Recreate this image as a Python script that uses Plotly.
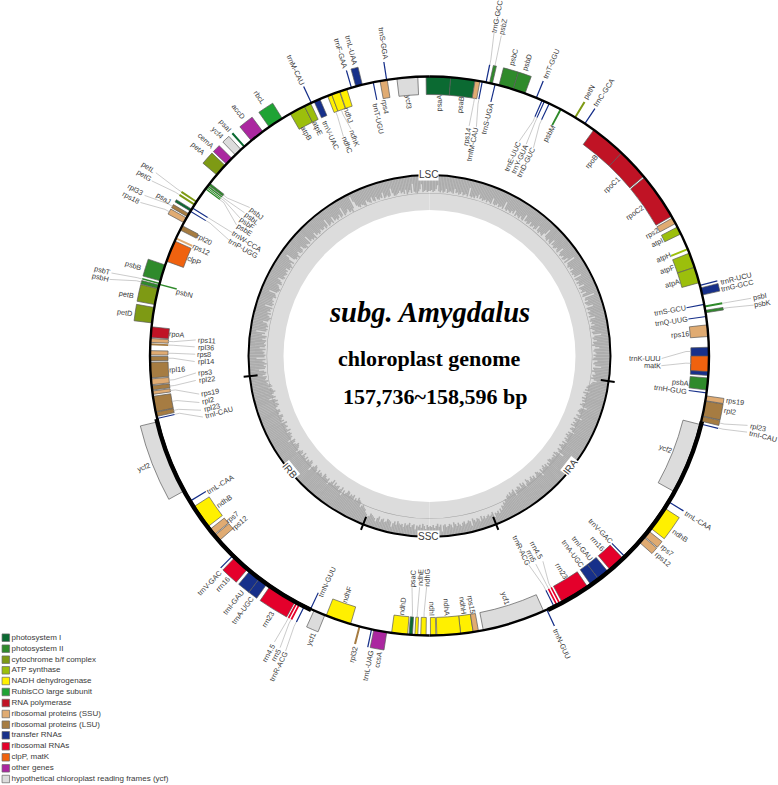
import math
import plotly.graph_objects as go

W, H = 778, 785
CX, CY, RMAX = 429.5, 356.0, 345.0
R_RING, GENE_H = 279.5, 18.0

# gene tables: (name, start angle, end angle, side of the ring), angles read clockwise from the top
photosystem_I = [("psaA", -0.7, 4.35, "in"), ("psaB", 4.35, 9.4, "in"), ("psaC", 183.5, 184.2, "in"),
                 ("psaI", 318.3, 318.7, "out"), ("psaJ", 301.2, 301.7, "out")]
photosystem_II = [("psbZ", 12.4, 13.0, "out"), ("psbC", 14.4, 17.4, "out"), ("psbD", 17.4, 20.0, "out"),
                  ("psbM", 27.8, 28.2, "in"), ("psbI", 79.6, 80.0, "out"), ("psbK", 80.6, 81.1, "out"),
                  ("psbA", 94.5, 97.0, "in"), ("psbB", 285.6, 289.0, "out"), ("psbT", 284.9, 285.2, "out"),
                  ("psbN", 284.7, 285.0, "in"), ("psbH", 284.0, 284.7, "out"), ("psbE", 306.6, 306.9, "in"),
                  ("psbF", 307.0, 307.2, "in"), ("psbL", 307.3, 307.6, "in"), ("psbJ", 307.7, 308.2, "in")]
cytochrome = [("petN", 31.2, 31.6, "out"), ("petD", 276.8, 280.0, "out"), ("petB", 280.6, 283.9, "out"),
              ("petG", 302.6, 303.0, "out"), ("petL", 303.3, 303.7, "out"), ("petA", 310.4, 313.0, "out")]
atp_synthase = [("atpI", 62.5, 64.1, "in"), ("atpH", 67.3, 67.7, "in"), ("atpF", 68.4, 71.5, "in"),
                ("atpA", 71.5, 74.8, "in"), ("atpB", 330.1, 333.4, "in"), ("atpE", 333.4, 334.8, "in")]
ndh = [("ndhB", 122.9, 127.9, "out"), ("ndhH", 171.0, 173.6, "in"), ("ndhA", 173.6, 178.5, "in"),
       ("ndhI", 178.7, 179.8, "in"), ("ndhG", 180.7, 181.8, "in"), ("ndhE", 182.4, 183.0, "in"),
       ("ndhD", 184.5, 187.8, "in"), ("ndhF", 196.4, 201.7, "in"), ("ndhB", 232.4, 237.4, "in"),
       ("ndhC", 338.6, 339.5, "in"), ("ndhK", 339.5, 341.2, "in"), ("ndhJ", 341.3, 342.8, "in")]
rubisco = [("rbcL", 325.0, 328.2, "out")]
rna_polymerase = [("rpoB", 36.0, 43.4, "in"), ("rpoC1", 43.4, 50.0, "in"), ("rpoC2", 50.3, 60.0, "in"),
                  ("rpoA", 273.8, 276.0, "in")]
ribosomal_ssu = [("rps14", 9.4, 10.4, "in"), ("rps2", 60.4, 61.7, "in"), ("rps16", 83.6, 86.0, "in"),
                 ("rps19", 98.2, 99.2, "out"), ("rps7", 128.6, 130.0, "out"), ("rps12", 130.2, 131.6, "out"),
                 ("rps15", 169.9, 171.0, "in"), ("rps7", 230.3, 231.7, "in"), ("rps12", 228.7, 230.1, "in"),
                 ("rps19", 262.1, 262.8, "in"), ("rps3", 264.1, 265.3, "in"), ("rps8", 270.2, 271.1, "in"),
                 ("rps11", 272.8, 273.6, "in"), ("rps12", 294.7, 295.1, "in"), ("rps18", 298.5, 299.6, "out"),
                 ("rps4", 349.8, 351.3, "in")]
ribosomal_lsu = [("rpl2", 99.3, 102.4, "out"), ("rpl23", 102.5, 103.5, "out"), ("rpl32", 194.3, 194.7, "out"),
                 ("rpl23", 257.5, 258.4, "in"), ("rpl2", 258.5, 261.7, "in"), ("rpl22", 263.0, 263.9, "in"),
                 ("rpl16", 265.5, 268.7, "in"), ("rpl14", 269.0, 269.9, "in"), ("rpl36", 272.2, 272.6, "in"),
                 ("rpl20", 296.8, 297.8, "in"), ("rpl33", 299.9, 300.6, "out")]
transfer_rna = [("trnfM-CAU", 10.75, 11.0, "in"), ("trnG-GCC", 11.55, 11.8, "out"), ("trnS-UGA", 13.45, 13.7, "in"),
                ("trnT-GGU", 22.35, 22.6, "out"), ("trnE-UUC", 23.65, 23.9, "in"), ("trnY-GUA", 24.15, 24.4, "in"),
                ("trnD-GUC", 25.25, 25.5, "in"), ("trnC-GCA", 33.65, 33.9, "out"), ("trnR-UCU", 75.25, 75.5, "out"),
                ("trnG-GCC", 75.9, 77.4, "out"), ("trnS-GCU", 79.25, 79.5, "in"), ("trnQ-UUG", 81.75, 82.0, "in"),
                ("trnK-UUU", 88.2, 94.0, "in"), ("trnH-GUG", 97.45, 97.7, "in"), ("trnI-CAU", 103.95, 104.2, "out"),
                ("trnL-CAA", 121.25, 121.5, "out"), ("trnV-GAC", 135.65, 135.9, "in"), ("trnI-GAU", 140.4, 142.85, "in"),
                ("trnA-UGC", 142.85, 144.8, "in"), ("trnR-ACG", 153.45, 153.7, "in"), ("trnN-GUU", 155.05, 155.3, "out"),
                ("trnL-UAG", 191.85, 192.1, "out"), ("trnN-GUU", 205.05, 205.3, "in"), ("trnR-ACG", 206.45, 206.7, "out"),
                ("trnA-UGC", 215.5, 217.4, "out"), ("trnI-GAU", 217.4, 219.9, "out"), ("trnV-GAC", 224.45, 224.7, "out"),
                ("trnL-CAA", 238.65, 238.9, "in"), ("trnI-CAU", 256.95, 257.2, "in"), ("trnP-UGG", 301.05, 301.3, "in"),
                ("trnW-CCA", 301.85, 302.1, "in"), ("trnM-CAU", 334.85, 335.1, "out"), ("trnV-UAC", 335.6, 336.9, "in"),
                ("trnF-GAA", 343.65, 343.9, "out"), ("trnL-UAA", 344.7, 346.1, "out"), ("trnT-UGU", 348.25, 348.5, "in"),
                ("trnS-GGA", 351.05, 351.3, "out")]
ribosomal_rna = [("rrn16", 136.3, 139.8, "in"), ("rrn23", 145.6, 151.7, "in"), ("rrn4.5", 152.1, 152.45, "in"),
                 ("rrn5", 152.75, 153.1, "in"), ("rrn5", 207.5, 207.85, "out"), ("rrn4.5", 208.1, 208.45, "out"),
                 ("rrn23", 208.7, 214.7, "out"), ("rrn16", 220.5, 224.0, "out")]
clp_mat = [("matK", 90.0, 93.2, "in"), ("clpP", 289.8, 294.3, "in")]
other_genes = [("ccsA", 188.8, 191.5, "out"), ("cemA", 313.4, 315.0, "out"), ("accD", 320.4, 323.4, "out")]
ycf_genes = [("ycf2", 104.2, 119.0, "in"), ("ycf1", 155.9, 168.9, "in"), ("ycf1", 202.0, 204.4, "out"),
             ("ycf2", 241.2, 256.4, "out"), ("ycf4", 316.0, 317.6, "out"), ("ycf3", 353.3, 357.6, "in")]

legend_names = ["photosystem I", "photosystem II", "cytochrome b/f complex", "ATP synthase", "NADH dehydrogenase",
                "RubisCO large subunit", "RNA polymerase", "ribosomal proteins (SSU)", "ribosomal proteins (LSU)",
                "transfer RNAs", "ribosomal RNAs", "clpP, matK", "other genes",
                "hypothetical chloroplast reading frames (ycf)"]
legend_colors = ["#0b6a32", "#2f8a2b", "#7e9a14", "#9cbf0c", "#fff000", "#1fa334", "#c01325", "#e0ab72", "#a67c42",
                 "#17308a", "#e4002b", "#f0620f", "#ab27a0", "#dcdcdc"]
legend_rows = [637.7, 648.7, 659.7, 670.3, 681, 692, 703, 714, 724.7, 735.3, 746.3, 757.3, 768.3, 779]
gene_groups = [photosystem_I, photosystem_II, cytochrome, atp_synthase, ndh, rubisco, rna_polymerase,
               ribosomal_ssu, ribosomal_lsu, transfer_rna, ribosomal_rna, clp_mat, other_genes, ycf_genes]

# inner edge of the dark GC band, two values per degree, each row of 20 covers 10 degrees
gc_edge = [
 165,166,164,165,167,171,165,164,166,164,165,168,164,165,166,165,164,169,165,166,
 164,165,167,164,165,166,164,173,165,164,165,164,167,165,169,165,166,164,165,166,
 164,166,165,164,170,165,164,165,167,164,165,166,164,172,165,164,166,165,164,167,
 165,169,164,166,165,164,167,165,164,171,165,166,164,165,168,164,165,167,164,165,
 170,165,164,166,165,164,168,174,166,165,164,167,165,164,170,165,166,164,165,167,
 165,164,171,166,164,165,167,164,165,169,164,175,166,165,164,166,165,168,164,165,
 164,166,165,172,164,165,167,164,166,165,170,164,165,166,164,169,165,164,176,166,
 165,168,164,165,166,171,164,165,167,164,165,166,164,170,165,164,166,165,168,164,
 163,165,167,164,165,173,166,164,165,168,164,165,163,166,170,165,164,166,167,164,
 166,164,163,168,165,164,166,172,164,165,163,166,167,164,165,163,166,169,165,164,
 163,161,160,162,159,164,158,161,160,162,158,161,159,163,160,158,161,166,160,159,
 158,160,162,158,160,165,157,159,161,158,160,157,162,159,158,161,164,158,160,157,
 159,161,158,160,163,158,161,159,157,160,162,158,160,167,159,157,161,158,160,159,
 160,158,157,161,159,163,158,160,157,159,161,158,165,160,158,157,160,162,158,160,
 157,159,161,158,156,160,163,157,159,156,161,158,157,160,159,164,157,159,160,158,
 161,159,160,163,162,165,164,167,166,170,168,172,169,171,170,174,168,170,171,169,
 170,172,169,171,168,173,170,169,172,170,168,175,170,169,171,172,169,170,173,171,
 169,172,170,168,173,170,169,171,172,169,170,176,169,171,168,170,172,169,171,170,
 171,169,173,170,168,172,169,171,170,174,169,170,172,168,170,171,169,173,170,171,
 170,168,172,169,171,175,170,169,168,171,172,169,170,173,168,170,174,171,170,169,
 168,171,172,170,169,166,165,163,164,166,161,160,158,162,160,163,158,160,159,161,
 158,157,160,162,159,165,157,160,162,158,159,160,157,161,156,159,161,164,158,160,
 160,158,157,162,160,159,161,158,163,160,158,157,160,166,161,158,157,160,159,162,
 158,161,160,157,162,159,158,160,164,161,159,158,157,160,162,159,158,165,161,159,
 160,158,159,162,157,160,161,158,159,160,157,163,159,161,160,158,158,162,161,159,
 159,162,163,160,158,159,161,158,160,166,159,161,163,160,158,160,161,164,160,161,
 164,165,163,166,165,164,168,165,164,166,171,165,164,166,163,165,167,164,173,165,
 164,166,165,167,164,170,165,164,166,165,164,168,165,164,169,166,175,165,164,166,
 164,165,166,170,165,164,163,165,167,164,168,165,166,164,172,165,164,166,165,167,
 167,164,165,166,173,165,164,163,165,166,168,164,165,167,170,165,164,166,165,164,
 166,165,168,164,165,163,165,167,164,171,175,166,164,165,163,166,168,165,164,165,
 169,165,164,163,166,165,164,172,165,166,164,165,163,169,165,166,164,165,167,165,
 165,167,164,165,172,164,165,166,164,170,165,166,164,165,168,164,165,173,164,165,
 166,168,164,165,163,166,178,172,167,165,164,166,165,164,163,168,166,165,164,169,
 165,164,168,165,164,166,165,170,164,165,166,164,165,172,167,164,164,165,166,168,
 165,166,164,168,163,165,167,164,173,165,164,163,165,167,172,164,165,166,164,165]

boundary_angles = [98.0, 158.4, 201.5, 263.6]
ir_spans = [(103.5, 155.0), (205.0, 257.0)]

# labels: (text, centre x, centre y, angle of the gene it is tied to or None, side)
labels = [
 ("trnS-GGA",382.7,43,None,""),("trnL-UAA",350.7,50,None,""),("trnF-GAA",340,53,None,""),("trnM-CAU",295,70,None,""),
 ("rbcL",259.3,97.7,None,""),("accD",238.3,111.7,None,""),("psaI",225,126,None,""),("ycf4",217.3,132.3,None,""),
 ("cemA",205.3,141,None,""),("petA",197.7,149,None,""),("petL",148.3,167.7,303.5,"out"),("petG",144,176,302.8,"out"),
 ("rpl33",135,190,300.2,"out"),("rps18",130.7,197.3,299,"out"),("psaJ",164,198.3,None,""),("rpl20",204.3,240,None,""),
 ("rps12",201,249.3,None,""),("clpP",194,260.7,None,""),("psbB",133.3,265.3,None,""),("psbT",102.7,270.7,285,"out"),
 ("psbH",100.7,277.3,284.4,"out"),("psbN",184.3,293.3,None,""),("petB",126.7,294.3,None,""),("petD",124,312.7,None,""),
 ("rpoA",177.3,334.3,None,""),("rps11",206.7,340.7,273.2,"in"),("rpl36",205.7,347.3,272.4,"in"),("rps8",204.3,354.3,270.6,"in"),
 ("rpl14",205.7,361.3,269.5,"in"),("rpl16",176.7,369,None,""),("rps3",205,372.3,264.7,"in"),("rpl22",206.7,379.3,263.4,"in"),
 ("rps19",210,392.3,262.4,"in"),("rpl2",208.3,400.7,260,"in"),("rpl23",211.7,407.7,258,"in"),("trnI-CAU",219,412.7,257.1,"in"),
 ("ycf2",143.3,467.3,None,""),("trnL-CAA",220,484,None,""),("ndhB",224,501.7,None,""),("rps7",232,517,None,""),
 ("rps12",239,523,None,""),("trnV-GAC",209,583.3,None,""),("rrn16",222.3,584,None,""),("trnI-GAU",233.3,602.3,None,""),
 ("trnA-UGC",242.7,610.7,None,""),("rrn23",267.7,619,None,""),("rrn4.5",268.3,653.3,208.3,"out"),("rrn5",276,655.7,207.7,"out"),
 ("trnR-ACG",278.3,666,206.6,"out"),("ycf1",310.7,639,None,""),("trnN-GUU",326.7,582.3,None,""),("ndhF",346.7,594,None,""),
 ("rpl32",353.3,654.3,None,""),("trnL-UAG",368.3,665.7,None,""),("ccsA",377.7,660,None,""),("ndhD",402.5,606.5,None,""),
 ("psaC",412.7,578.3,183.8,"in"),("ndhE",420,578,182.7,"in"),("ndhG",426.7,578,181.2,"in"),("ndhI",432.3,609,None,""),
 ("ndhA",446.7,607.3,None,""),("ndhH",463.3,605,None,""),("rps15",471.7,604,None,""),("ycf1",505,597.7,None,""),
 ("rrn23",561,570.7,None,""),("trnR-ACG",521.7,550,153.6,"in"),("rrn5",531.7,556,152.9,"in"),("rrn4.5",536.7,550,152.3,"in"),
 ("trnA-UGC",572.7,553.3,None,""),("trnI-GAU",582.3,548.3,None,""),("rrn16",597.3,543.3,None,""),("trnV-GAC",600,530.7,None,""),
 ("trnN-GUU",561.7,643.3,None,""),("rps7",667.3,550.3,None,""),("rps12",663.3,559,None,""),("ndhB",680,535,None,""),
 ("trnL-CAA",697.7,520.7,None,""),("ycf2",665,448.3,None,""),("trnI-CAU",763.3,436,104,"out"),("rpl23",758.3,427.7,103,"out"),
 ("rpl2",730,411.3,None,""),("rps19",735,401,None,""),("trnH-GUG",670.7,389,None,""),("psbA",680,382.7,None,""),
 ("matK",652.3,365.3,91.6,"in"),("trnK-UUU",645,358.3,89,"in"),("rps16",680,334,None,""),("trnQ-UUG",671,321,None,""),
 ("trnS-GCU",670,310,None,""),("psbK",762.7,303.7,80.8,"out"),("psbI",760,296.7,79.8,"out"),("trnG-GCC",737.7,286,None,""),
 ("trnR-UCU",735.7,278.3,None,""),("atpA",672.3,284,None,""),("atpF",667.3,270,None,""),("atpH",663.3,257.7,None,""),
 ("atpI",657.3,242.3,None,""),("rps2",651.7,233.3,None,""),("rpoC2",635,212.7,None,""),("rpoC1",612.3,185,None,""),
 ("rpoB",591.7,161.7,None,""),("trnC-GCA",604,92.7,None,""),("petN",589,92.7,None,""),("psbM",549,133.3,None,""),
 ("trnD-GUC",526,162.7,25.4,"in"),("trnY-GUA",519.3,159.3,24.3,"in"),("trnE-UUC",512.7,156.7,23.8,"in"),
 ("trnT-GGU",551.7,64,None,""),("psbD",527.3,62.7,None,""),("psbC",513.3,57.3,None,""),("psbZ",503.3,26.7,12.7,"out"),
 ("trnG-GCC",497.3,16.7,11.7,"out"),("trnS-UGA",487.3,118.3,None,""),("trnfM-CAU",472.7,145,10.9,"in"),("rps14",467.3,136.7,9.9,"in"),
 ("psaB",461,105,None,""),("psaA",439,103.3,None,""),("ycf3",408.3,101.7,None,""),("rps4",385,106.7,None,""),
 ("trnT-UGU",378.3,118.3,None,""),("ndhJ",348.3,115.7,None,""),("ndhK",354,137.7,340.3,"in"),("ndhC",346.7,145,339,"in"),
 ("trnV-UAC",330,135,None,""),("atpE",317.7,128.3,None,""),("atpB",306.7,133.3,None,""),
 ("psbJ",256.7,213.3,308,"in"),("psbL",251.7,218.3,307.5,"in"),("psbF",247.3,223.3,307.1,"in"),("psbE",244,230,306.7,"in"),
 ("trnW-CCA",246.7,241.7,302,"in"),("trnP-UGG",243.3,248.3,301.2,"in"),
]
ring_labels = [("LSC", 429, 175, 0), ("IRA", 570.7, 466.7, -52), ("IRB", 290, 470, 51), ("SSC", 429, 536, 0)]
title_lines = [("subg. Amygdalus", 429.5, 312, 28.5, "<b><i>%s</i></b>"), ("chloroplast genome", 429.5, 358, 22, "<b>%s</b>"),
               ("157,736~158,596 bp", 435, 396, 22, "<b>%s</b>")]

SANS = "Liberation Sans"
fig = go.Figure()


def annulus(base, thick, color, theta=0.0, width=360.0):
    fig.add_trace(go.Barpolar(theta=[theta], r=[thick], base=[base], width=[width], marker_color=color,
                              marker_line_width=0, hoverinfo="skip", showlegend=False))


annulus(146, 35, "#dcdcdc", 90, 180)
annulus(146, 35, "#dcdcdc", 270, 180)
n_gc = len(gc_edge)
gc_step = 360.0 / n_gc
fig.add_trace(go.Barpolar(theta=[(i + 0.5) * gc_step for i in range(n_gc)], r=[181 - v for v in gc_edge], base=gc_edge,
                          width=[gc_step * 1.04] * n_gc, marker_color="#adadad", marker_line_width=0,
                          hoverinfo="skip", showlegend=False))
annulus(162.4, 0.6, "#a2a2a2", 90, 180)
annulus(162.4, 0.6, "#a2a2a2", 270, 180)
annulus(180, 2, "#000000", 90, 180)
annulus(180, 2, "#000000", 270, 180)

for group, color in zip(gene_groups, legend_colors):
    names = [g[0] for g in group]
    starts = [g[1] for g in group]
    ends = [g[2] for g in group]
    sides = [g[3] for g in group]
    thin = [e - s < 0.45 for s, e in zip(starts, ends)]
    fig.add_trace(go.Barpolar(
        theta=[(s + e) / 2 for s, e in zip(starts, ends)],
        width=[e - s for s, e in zip(starts, ends)],
        r=[GENE_H] * len(group),
        base=[R_RING if sd == "out" else R_RING - GENE_H for sd in sides],
        marker=dict(color=color, line=dict(color=[color if t else "#5a5a5a" for t in thin],
                                           width=[0 if t else 0.7 for t in thin])),
        text=names, hoverinfo="text", showlegend=False))

annulus(R_RING - 1.2, 2.4, "#000000", 90, 180)
annulus(R_RING - 1.2, 2.4, "#000000", 270, 180)
for a, b in ir_spans:
    annulus(R_RING - 1.5, 4.4, "#000000", (a + b) / 2, b - a)

tick_t, tick_r = [], []
for a in boundary_angles:
    tick_t += [a, a, None]
    tick_r += [173, 187, None]
fig.add_trace(go.Scatterpolar(theta=tick_t, r=tick_r, mode="lines", line=dict(color="#000000", width=2),
                              hoverinfo="skip", showlegend=False))

lead_t, lead_r = [], []
annotations = []
for text, x, y, lead, side in labels:
    dx, dy = x - CX, CY - y
    ang = math.degrees(math.atan2(dx, dy)) % 360
    rot = ang - 90 if ang < 180 else ang - 270
    annotations.append(dict(x=x / W, y=1 - y / H, xref="paper", yref="paper", text=text, showarrow=False,
                            textangle=rot, xanchor="center", yanchor="middle",
                            font=dict(family=SANS, size=7.3, color="#3a3a3a")))
    if lead is not None:
        rad = math.hypot(dx, dy)
        half = 0.26 * 7.3 * len(text) + 1.5
        end_r = rad - half if side == "out" else rad + half
        tip = R_RING + GENE_H if side == "out" else R_RING - GENE_H
        step = 5 if side == "out" else -5
        lead_t += [lead, lead, ang, None]
        lead_r += [tip, tip + step, end_r, None]
fig.add_trace(go.Scatterpolar(theta=lead_t, r=lead_r, mode="lines", line=dict(color="#b4b4b4", width=0.7),
                              hoverinfo="skip", showlegend=False))

for text, x, y, rot in ring_labels:
    annotations.append(dict(x=x / W, y=1 - y / H, xref="paper", yref="paper", text=text, showarrow=False,
                            textangle=rot, bgcolor="#ffffff", borderpad=0, xanchor="center", yanchor="middle",
                            font=dict(family=SANS, size=10, color="#3a3a3a")))
for text, x, y, size, fmt in title_lines:
    annotations.append(dict(x=x / W, y=1 - y / H, xref="paper", yref="paper", text=fmt % text, showarrow=False,
                            xanchor="center", yanchor="middle",
                            font=dict(family="Liberation Serif", size=size, color="#000000")))

fig.add_trace(go.Scatter(x=[5.8] * 14, y=legend_rows, mode="markers+text", text=legend_names,
                         textposition="middle right", cliponaxis=False,
                         textfont=dict(family=SANS, size=8, color="#3a3a3a"),
                         marker=dict(symbol="square", size=7.5, color=legend_colors,
                                     line=dict(color="#666666", width=0.7)),
                         hoverinfo="skip", showlegend=False))

fig.update_layout(
    width=W, height=H, margin=dict(l=0, r=0, t=0, b=0), paper_bgcolor="#ffffff", plot_bgcolor="rgba(0,0,0,0)",
    showlegend=False, annotations=annotations,
    xaxis=dict(range=[0, W], visible=False, domain=[0, 1], fixedrange=True),
    yaxis=dict(range=[H, 0], visible=False, domain=[0, 1], fixedrange=True),
    polar=dict(domain=dict(x=[(CX - RMAX) / W, (CX + RMAX) / W], y=[1 - (CY + RMAX) / H, 1 - (CY - RMAX) / H]),
               bgcolor="rgba(0,0,0,0)",
               radialaxis=dict(visible=False, range=[0, RMAX]),
               angularaxis=dict(visible=False, direction="clockwise", rotation=90),
               barmode="overlay"))
fig.write_html("out.html", config={"displayModeBar": False, "responsive": False},
               post_script="document.documentElement.style.overflow='hidden';document.body.style.margin='0';document.body.style.padding='0';")
